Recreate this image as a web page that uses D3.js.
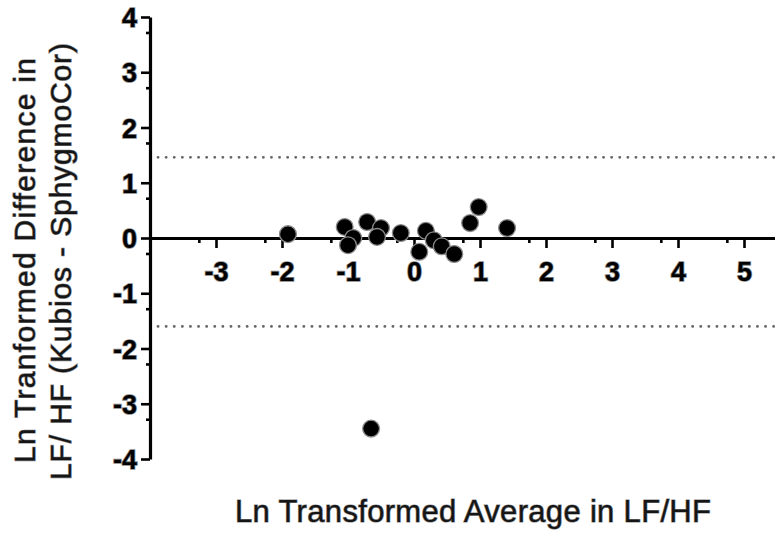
<!DOCTYPE html>
<head>
  <meta charset="utf-8">
  <script src="https://cdn.jsdelivr.net/npm/d3@7"></script>
  <style>
    body { margin: 0; background: #fff; }
    text { font-family: "Liberation Sans", Arial, sans-serif; fill: #151515; stroke: #8a8a8a; stroke-width: 1.2px; paint-order: stroke; }
  </style>
</head>
<body>

<svg width="775" height="533"></svg>

<script type="text/javascript">
// data: average (x) vs difference (y), both ln transformed
var avgLn  = [-1.91, -1.05, -0.92, -1.00, -0.71, -0.50, -0.56, -0.20, 0.18, 0.08, 0.30, 0.42, 0.61, 0.85, 0.98, 1.41, -0.65];
var diffLn = [ 0.07,  0.20,  0.00, -0.13,  0.29,  0.18,  0.02,  0.09, 0.13, -0.25, -0.04, -0.15, -0.29, 0.27, 0.56, 0.18, -3.45];
var limits = [1.46, -1.60];            // limits of agreement (dotted)
var xTicks = [-3, -2, -1, 0, 1, 2, 3, 4, 5];
var yTicks = [-4, -3, -2, -1, 0, 1, 2, 3, 4];

var svg = d3.select("svg");

var x = d3.scaleLinear().domain([-4, 6]).range([150, 810]);
var y = d3.scaleLinear().domain([-4, 4]).range([459, 17]);

// dotted lines
svg.selectAll(".lim")
  .data(limits)
  .enter().append("line")
    .attr("x1", 158).attr("x2", 780)
    .attr("y1", function(d) { return y(d); })
    .attr("y2", function(d) { return y(d); })
    .style("stroke", "#666")
    .style("stroke-width", 2.8)
    .style("stroke-linecap", "round")
    .style("stroke-dasharray", "0.1,8");

// y axis
var yAxis = svg.append("g")
  .attr("transform", "translate(" + x(-4) + ",0)")
  .call(d3.axisLeft(y).tickValues(yTicks).tickSize(9).tickSizeOuter(0).tickPadding(4)
        .tickFormat(function(d) { return String(d); }));

// minor ticks on y (sit a bit under each major one, as in the picture)
svg.append("g")
  .attr("transform", "translate(" + x(-4) + ",0)")
  .call(d3.axisLeft(y).tickValues(yTicks.slice(1).map(function(d) { return d - 0.28; }))
        .tickSize(4).tickSizeOuter(0).tickFormat(""))
  .select(".domain").remove();

// x axis at y = 0
var xAxis = svg.append("g")
  .attr("transform", "translate(0," + y(0) + ")")
  .call(d3.axisBottom(x).tickValues(xTicks).tickSize(10).tickSizeOuter(0).tickPadding(14)
        .tickFormat(function(d) { return String(d); }));

svg.append("g")
  .attr("transform", "translate(0," + y(0) + ")")
  .call(d3.axisBottom(x).tickValues(xTicks.concat([6]).map(function(d) { return d - 0.26; }))
        .tickSize(5).tickSizeOuter(0).tickFormat(""))
  .select(".domain").remove();

svg.selectAll(".domain").style("stroke", "#000").style("stroke-width", 3.2);
svg.selectAll(".tick line").style("stroke", "#000").style("stroke-width", 2.6);
svg.selectAll(".tick text")
  .style("font-size", "27px")
  .style("font-weight", "bold")
  .style("stroke-width", "1.6px")
  .style("fill", "#000");
yAxis.selectAll(".tick text").attr("dy", "0.36em");

// points
svg.selectAll(".pt")
  .data(avgLn)
  .enter().append("circle")
    .attr("cx", function(d) { return x(d); })
    .attr("cy", function(d, i) { return y(diffLn[i]); })
    .attr("r", 8.4)
    .style("fill", "#000")
    .style("stroke", "#8a8a8a")
    .style("stroke-width", 1.3);

// axis titles
svg.append("text")
  .attr("x", 235).attr("y", 522)
  .attr("textLength", 476)
  .style("font-size", "31px")
  .text("Ln Transformed Average in LF/HF");

svg.append("text")
  .attr("transform", "translate(35,463) rotate(-90)")
  .attr("textLength", 405)
  .style("font-size", "30px")
  .text("Ln Tranformed Difference in");

svg.append("text")
  .attr("transform", "translate(71,480) rotate(-90)")
  .attr("textLength", 437)
  .style("font-size", "30px")
  .text("LF/ HF (Kubios - SphygmoCor)");
</script>
</body>
</html>
